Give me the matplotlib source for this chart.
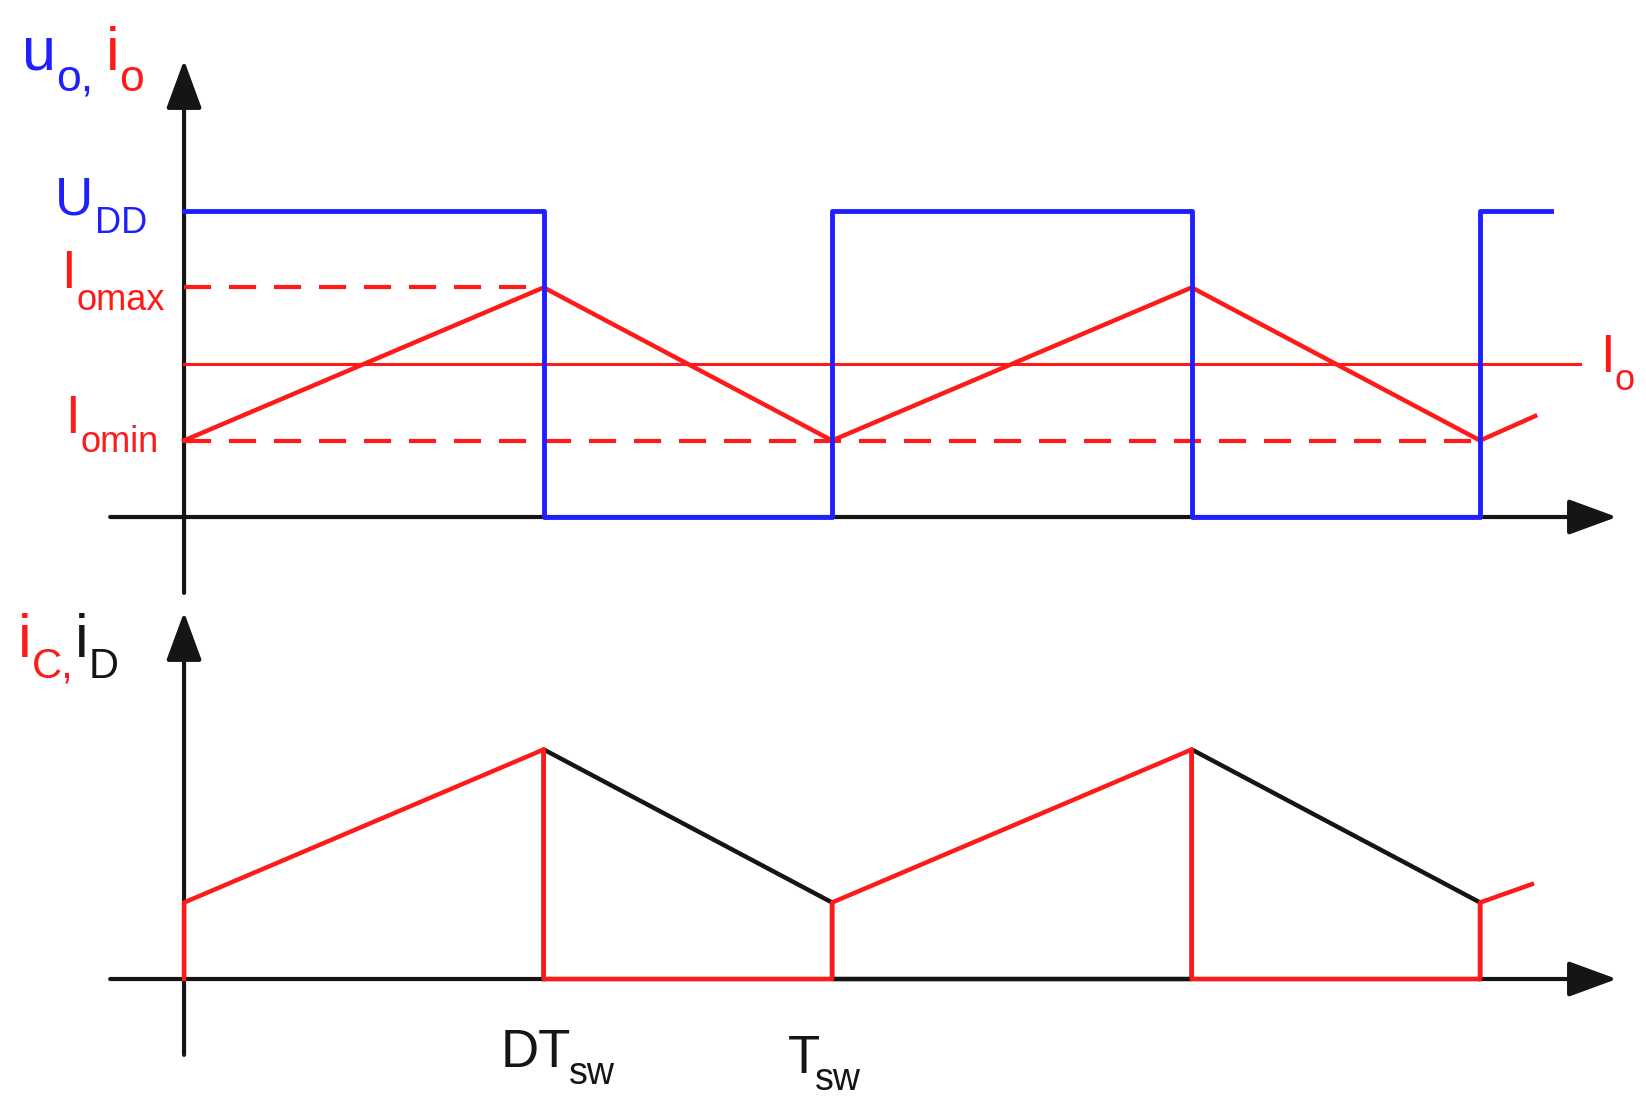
import matplotlib.pyplot as plt

plt.rcParams['font.family'] = ['Liberation Sans', 'DejaVu Sans']

BLUE = '#2020ff'
RED = '#ff1a1a'
BLACK = '#151515'

D = 0.555  # duty cycle, time in units of T_sw

# top panel: output voltage u_o (in units of U_DD) and inductor current i_o
t_uo = [0, D, D, 1, 1, 1 + D, 1 + D, 2, 2, 2.11]
u_o = [1, 1, 0, 0, 1, 1, 0, 0, 1, 1]
t_io = [0, D, 1, 1 + D, 2, 2.085]
i_o = [0.25, 0.75, 0.25, 0.75, 0.25, 0.33]
U_DD, I_omax, I_o, I_omin = 1.0, 0.75, 0.5, 0.25
t_Io_end = 2.154

# bottom panel: transistor current i_C and diode current i_D
t_ic = [0, 0, D, D, 1, 1, 1 + D, 1 + D, 2, 2, 2.08]
i_C = [0, 0.25, 0.75, 0, 0, 0.25, 0.75, 0, 0, 0.25, 0.31]
t_id = [D, D, 1, 1, 1 + D, 1 + D, 2, 2]
i_D = [0, 0.75, 0.25, 0, 0, 0.75, 0.25, 0]

# extents of the drawn axes
t_axis = (-0.114, 2.211)
y_top_axis = (-0.248, 1.493)
y_bot_axis = (-0.248, 1.199)


def axis_arrow(ax, x0, y0, x1, y1):
    ax.annotate('', xy=(x1, y1), xytext=(x0, y0),
                arrowprops=dict(arrowstyle='-|>,head_length=30,head_width=11',
                                mutation_scale=1, lw=3, color=BLACK,
                                shrinkA=0, shrinkB=0), zorder=1)


def sub_label(ax, x, y, main, sub, color, size, sub_size, dx, dy, sub_color=None):
    t = ax.text(x, y, main, color=color, fontsize=size, ha='left', va='baseline')
    ax.annotate(sub, xy=(1, y), xycoords=(t, 'data'), xytext=(dx, dy),
                textcoords='offset points', color=sub_color or color,
                fontsize=sub_size, ha='left', va='baseline')


fig = plt.figure(figsize=(16.46, 11.06), dpi=100)
ax1 = fig.add_axes([0, 506 / 1106, 1, 600 / 1106])
ax2 = fig.add_axes([0, 0, 1, 506 / 1106])
for ax in (ax1, ax2):
    ax.set_xlim(-0.284, 2.256)
    ax.axis('off')
ax1.set_ylim(-0.2712, 1.6895)
ax2.set_ylim(-0.415, 1.2386)

# ---- top panel
axis_arrow(ax1, t_axis[0], 0, t_axis[1], 0)
axis_arrow(ax1, 0, y_top_axis[0], 0, y_top_axis[1])
ax1.plot([0, D], [I_omax, I_omax], color=RED, lw=3, dashes=(6.5, 4.3), zorder=2)
ax1.plot([0, 2], [I_omin, I_omin], color=RED, lw=3, dashes=(6.5, 4.3), zorder=2)
ax1.plot([0, t_Io_end], [I_o, I_o], color=RED, lw=2.2, zorder=2)
ax1.plot(t_io, i_o, color=RED, lw=3.2, zorder=3)
ax1.plot(t_uo, u_o, color=BLUE, lw=3.5, zorder=4)

sub_label(ax1, -0.250, 1.461, 'u', 'o,', BLUE, 44, 32, 0, -15)
sub_label(ax1, -0.121, 1.461, 'i', 'o', RED, 44, 32, 0, -15)
sub_label(ax1, -0.200, 0.987, 'U', 'DD', BLUE, 38, 26, 1.4, -13)
sub_label(ax1, -0.189, 0.748, 'I', 'omax', RED, 38, 26, 0, -16)
sub_label(ax1, -0.183, 0.275, 'I', 'omin', RED, 38, 26, 0, -14)
sub_label(ax1, 2.185, 0.474, 'I', 'o', RED, 38, 26, 0, -13)

# ---- bottom panel
axis_arrow(ax2, t_axis[0], 0, t_axis[1], 0)
axis_arrow(ax2, 0, y_bot_axis[0], 0, y_bot_axis[1])
ax2.plot(t_id, i_D, color=BLACK, lw=3.2, zorder=3)
ax2.plot(t_ic, i_C, color=RED, lw=3.2, zorder=3)

sub_label(ax2, -0.256, 1.052, 'i', 'C,', RED, 44, 30, 0, -15)
sub_label(ax2, -0.168, 1.052, 'i', 'D', BLACK, 44, 30, 0, -15)
sub_label(ax2, D - 0.066, -0.288, 'DT', 'sw', BLACK, 38, 27, -2, -12)
sub_label(ax2, 1 - 0.068, -0.307, 'T', 'sw', BLACK, 38, 27, -4, -12)

fig.savefig('out.png', dpi=100)
